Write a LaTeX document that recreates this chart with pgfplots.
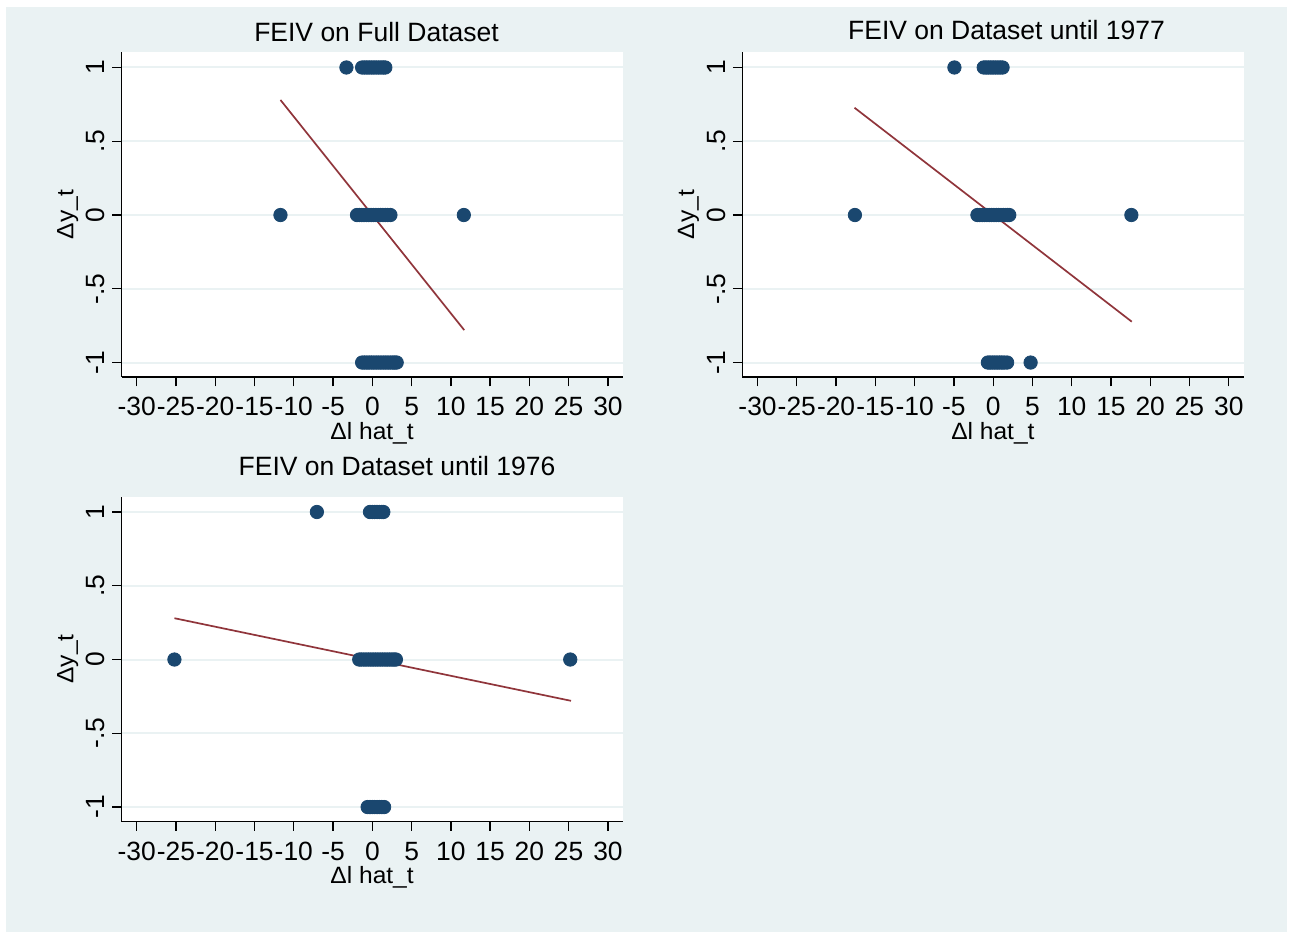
\documentclass[border=0pt]{standalone}
\usepackage{fontspec}
\setmainfont{Liberation Sans}
\newfontfamily\labfont{Liberation Sans}[FakeStretch=1.04]
\usepackage{pgfplots}
\pgfplotsset{compat=1.18}
\definecolor{bgc}{RGB}{234,242,243}
\definecolor{stnavy}{RGB}{26,71,111}
\definecolor{stmaroon}{RGB}{144,53,59}

\pgfplotsset{feiv/.style={
  scale only axis, width=250.6pt, height=162.5pt, anchor=south west,
  xmin=-31.94, xmax=31.88, ymin=-1.098, ymax=1.105,
  axis x line*=bottom, axis y line*=left,
  axis line style={black, line width=0.65pt, -},
  axis background/.style={fill=white},
  xtick={-30,-25,...,30},
  xticklabels={-30,-25,-20,-15,-10,-5,0,5,10,15,20,25,30},
  ytick={-1,-0.5,0,0.5,1}, yticklabels={-1,-.5,0,.5,1},
  ymajorgrids, grid style={bgc, line width=1pt},
  tick align=outside, major tick length=4.7pt,
  every tick/.style={black, line width=0.65pt},
  xticklabel style={font=\fontsize{13.2}{15}\selectfont, anchor=base, inner sep=0pt},
  yticklabel style={font=\fontsize{13.2}{15}\selectfont, rotate=90, anchor=base, inner sep=0pt},
  xticklabel shift=14.8pt, yticklabel shift=3.8pt,
  xlabel={Δl hat\_t}, ylabel={Δy\_t},
  label style={font=\labfont\fontsize{11.8}{13}\selectfont},
  xlabel style={at={(axis description cs:0.5,-0.1917)}, anchor=base},
  ylabel style={at={(axis description cs:-0.0962,0.5)}, anchor=base},
  stscat/.style={only marks, mark=*, mark size=3.35pt, color=stnavy, mark options={fill=stnavy, draw=none}},
  fitline/.style={no marks, stmaroon, line width=0.85pt},
}}

\begin{document}
\begin{tikzpicture}
\fill[white] (0,0) rectangle (647.5pt,466.5pt);
\fill[bgc] (3pt,0.5pt) rectangle (643.5pt,463pt);

% Panel 1
\begin{axis}[feiv, at={(60.75pt,278pt)}]
\addplot[stscat] coordinates {
(-3.3,1) (-1.3,1) (-1.0,1) (-0.7,1) (-0.4,1) (-0.1,1) (0.2,1) (0.5,1) (0.8,1) (1.1,1) (1.4,1) (1.65,1)
(-11.7,0) (11.65,0)
(-1.95,0) (-1.65,0) (-1.35,0) (-1.05,0) (-0.75,0) (-0.45,0) (-0.15,0) (0.15,0) (0.45,0) (0.75,0) (1.05,0) (1.35,0) (1.65,0) (1.95,0) (2.3,0)
(-1.3,-1) (-1.0,-1) (-0.7,-1) (-0.4,-1) (-0.1,-1) (0.2,-1) (0.5,-1) (0.8,-1) (1.1,-1) (1.4,-1) (1.7,-1) (2.0,-1) (2.3,-1) (2.6,-1) (2.85,-1) (3.1,-1)
};
\addplot[fitline] coordinates {(-11.7,0.78) (11.7,-0.78)};
\end{axis}

% Panel 2
\begin{axis}[feiv, at={(371.15pt,278pt)}]
\addplot[stscat] coordinates {
(-4.93,1) (-1.2,1) (-0.9,1) (-0.6,1) (-0.3,1) (0,1) (0.3,1) (0.6,1) (0.9,1) (1.2,1)
(-17.6,0) (17.6,0)
(-2.0,0) (-1.7,0) (-1.4,0) (-1.1,0) (-0.8,0) (-0.5,0) (-0.2,0) (0.1,0) (0.4,0) (0.7,0) (1.0,0) (1.3,0) (1.6,0) (1.85,0) (2.05,0)
(-0.67,-1) (-0.4,-1) (-0.1,-1) (0.2,-1) (0.5,-1) (0.8,-1) (1.1,-1) (1.4,-1) (1.78,-1) (4.77,-1)
};
\addplot[fitline] coordinates {(-17.65,0.727) (17.65,-0.723)};
\end{axis}

% Panel 3
\begin{axis}[feiv, at={(60.75pt,55.75pt)}]
\addplot[stscat] coordinates {
(-7.06,1) (-0.3,1) (0,1) (0.3,1) (0.6,1) (0.9,1) (1.2,1) (1.4,1)
(-25.2,0) (25.2,0)
(-1.67,0) (-1.4,0) (-1.1,0) (-0.8,0) (-0.5,0) (-0.2,0) (0.1,0) (0.4,0) (0.7,0) (1.0,0) (1.3,0) (1.6,0) (1.9,0) (2.2,0) (2.5,0) (2.75,0) (3.0,0)
(-0.6,-1) (-0.3,-1) (0,-1) (0.3,-1) (0.6,-1) (0.9,-1) (1.2,-1) (1.5,-1)
};
\addplot[fitline] coordinates {(-25.2,0.28) (25.3,-0.28)};
\end{axis}

\node[font=\fontsize{13.25}{15}\selectfont, anchor=base] at (188.25pt,445.65pt) {FEIV on Full Dataset};
\node[font=\fontsize{13.25}{15}\selectfont, anchor=base] at (503.25pt,446.65pt) {FEIV on Dataset until 1977};
\node[font=\fontsize{13.25}{15}\selectfont, anchor=base] at (198.5pt,228.75pt) {FEIV on Dataset until 1976};
\end{tikzpicture}
\end{document}
